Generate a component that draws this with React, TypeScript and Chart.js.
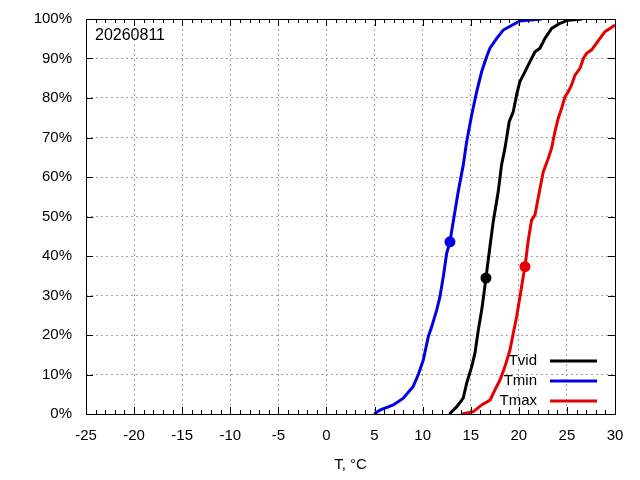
import { useEffect, useRef } from "react";
import { Chart, registerables, ChartConfiguration, Plugin } from "chart.js";

Chart.register(...registerables);

// cumulative distribution, x = temperature (°C), y = share of days (%)
const tvidT = [12.77, 13.53, 14.22, 14.58, 15.1, 15.44, 15.79, 16.14, 16.38, 16.58, 17.0, 17.34, 17.86, 18.2, 18.56, 19.0, 19.42, 19.77, 20.1, 20.46, 21.16, 21.68, 22.2, 22.72, 23.41, 24.28, 25.14, 26.6];
const tvidP = [0, 1.8, 4, 7.8, 12, 15.4, 21.3, 26.3, 30.6, 34.4, 42.4, 48.7, 56.3, 63, 67.3, 74, 76.5, 80.8, 84.1, 85.8, 89.2, 91.7, 92.6, 95.1, 97.6, 98.9, 99.7, 100];

const tminT = [4.97, 5.56, 6.95, 7.99, 9.02, 9.55, 10.07, 10.59, 10.93, 11.46, 11.8, 12.15, 12.5, 12.84, 13.18, 13.7, 14.22, 14.58, 15.1, 15.62, 16.14, 16.66, 17.0, 17.7, 18.38, 20.1, 22.37];
const tminP = [0, 1, 2.3, 4, 7, 10, 13.7, 19.6, 22, 26.3, 29.7, 34.8, 40.7, 43.6, 48.7, 56.3, 63, 69, 75.7, 81.6, 86.7, 90.5, 92.6, 95.1, 97.2, 99.5, 100];

const tmaxT = [14.1, 15.26, 16.14, 17.0, 17.52, 18.04, 18.56, 19.08, 19.42, 19.77, 20.12, 20.46, 20.64, 20.98, 21.33, 21.68, 22.2, 22.54, 23.06, 23.41, 23.76, 24.1, 24.45, 24.8, 25.14, 25.49, 25.84, 26.36, 26.71, 27.05, 27.57, 28.44, 28.96, 29.48, 30.0];
const tmaxP = [0, 0.6, 2.3, 3.5, 6.1, 8.6, 12, 16.2, 20.4, 24.6, 29.7, 34.8, 37.3, 44, 49.1, 50.4, 57.1, 61.3, 64.7, 67.3, 71.5, 74.9, 77.4, 80.3, 81.6, 83.3, 85.8, 87.5, 90, 91.3, 92.2, 95.1, 96.8, 97.6, 98.5];

// marked points (today's values)
const seriesNames = ["Tvid", "Tmin", "Tmax"];
const markT = [16.58, 12.84, 20.64];
const markP = [34.4, 43.6, 37.3];

const dateLabel = "20260811";

const COLORS = ["#000000", "#0000e6", "#e60000"];
const FONT = "'Liberation Sans', Arial, sans-serif";

function toPoints(xs: number[], ys: number[]) {
    return xs.map((x, i) => ({ x, y: ys[i] }));
}

// gnuplot-like frame, inward ticks, key and date label
const framePlugin: Plugin = {
    id: "frame",
    afterDraw(chart) {
        const { ctx, chartArea: a, scales } = chart;
        const xs = scales.x;
        const ys = scales.y;
        ctx.save();
        ctx.strokeStyle = "#000";
        ctx.lineWidth = 1;
        ctx.beginPath();
        for (let v = -25; v <= 30; v++) {
            const px = Math.round(xs.getPixelForValue(v)) + 0.5;
            const len = v % 5 === 0 ? 7 : 4;
            ctx.moveTo(px, a.bottom);
            ctx.lineTo(px, a.bottom - len);
            ctx.moveTo(px, a.top);
            ctx.lineTo(px, a.top + len);
        }
        for (let v = 0; v <= 100; v += 10) {
            const py = Math.round(ys.getPixelForValue(v)) + 0.5;
            ctx.moveTo(a.left, py);
            ctx.lineTo(a.left + 7, py);
            ctx.moveTo(a.right, py);
            ctx.lineTo(a.right - 7, py);
        }
        ctx.stroke();
        ctx.strokeRect(Math.round(a.left) + 0.5, Math.round(a.top) + 0.5, Math.round(a.width), Math.round(a.height));

        ctx.fillStyle = "#000";
        ctx.textBaseline = "middle";
        ctx.textAlign = "left";
        ctx.font = `16px ${FONT}`;
        ctx.fillText(dateLabel, a.left + 9, a.top + 17);

        // key, bottom right
        ctx.font = `15px ${FONT}`;
        ctx.textAlign = "right";
        seriesNames.forEach((name, i) => {
            const y = a.bottom - 53 + i * 20;
            ctx.fillText(name, a.right - 78, y);
            ctx.strokeStyle = COLORS[i];
            ctx.lineWidth = 3;
            ctx.beginPath();
            ctx.moveTo(a.right - 65, y);
            ctx.lineTo(a.right - 18, y);
            ctx.stroke();
        });
        ctx.restore();
    },
};

export default function App() {
    const canvasRef = useRef<HTMLCanvasElement>(null);
    const chartRef = useRef<Chart | null>(null);

    useEffect(() => {
        if (!canvasRef.current) return;
        if (chartRef.current) chartRef.current.destroy();

        const lines = [toPoints(tvidT, tvidP), toPoints(tminT, tminP), toPoints(tmaxT, tmaxP)];

        const config: ChartConfiguration = {
            type: "scatter",
            data: {
                datasets: [
                    ...lines.map((pts, i) => ({
                        label: seriesNames[i],
                        data: pts,
                        showLine: true,
                        borderColor: COLORS[i],
                        backgroundColor: COLORS[i],
                        borderWidth: 3,
                        pointRadius: 0,
                        tension: 0,
                    })),
                    ...markT.map((t, i) => ({
                        label: seriesNames[i] + " mark",
                        data: [{ x: t, y: markP[i] }],
                        showLine: false,
                        pointRadius: 5.5,
                        borderWidth: 0,
                        backgroundColor: COLORS[i],
                        borderColor: COLORS[i],
                    })),
                ],
            },
            options: {
                responsive: true,
                maintainAspectRatio: false,
                animation: false,
                layout: { padding: { top: 19, right: 25, left: 0, bottom: 0 } },
                plugins: {
                    legend: { display: false },
                    tooltip: { enabled: false },
                },
                scales: {
                    x: {
                        type: "linear",
                        min: -25,
                        max: 30,
                        afterFit: (s: any) => {
                            s.height = 66;
                            s.paddingLeft = 0;
                            s.paddingRight = 0;
                        },
                        ticks: {
                            stepSize: 5,
                            padding: 13,
                            color: "#000",
                            font: { family: FONT, size: 15 },
                        },
                        grid: { color: "#a0a0a0", lineWidth: 1, drawTicks: false },
                        border: { display: false, dash: [2, 3] },
                        title: {
                            display: true,
                            text: "T, °C",
                            color: "#000",
                            font: { family: FONT, size: 15 },
                            padding: { top: 0, bottom: 6 },
                        },
                    },
                    y: {
                        type: "linear",
                        min: 0,
                        max: 100,
                        afterFit: (s: any) => {
                            s.width = 86;
                            s.paddingTop = 0;
                            s.paddingBottom = 0;
                        },
                        ticks: {
                            stepSize: 10,
                            padding: 14,
                            color: "#000",
                            font: { family: FONT, size: 15 },
                            callback: (v) => `${v}%`,
                        },
                        grid: { color: "#a0a0a0", lineWidth: 1, drawTicks: false },
                        border: { display: false, dash: [2, 3] },
                    },
                },
            },
            plugins: [framePlugin],
        };

        chartRef.current = new Chart(canvasRef.current, config);
        return () => {
            if (chartRef.current) {
                chartRef.current.destroy();
                chartRef.current = null;
            }
        };
    }, []);

    return (
        <div style={{ position: "fixed", left: 0, top: 0, width: 640, height: 480, background: "#fff" }}>
            <canvas ref={canvasRef} />
        </div>
    );
}
